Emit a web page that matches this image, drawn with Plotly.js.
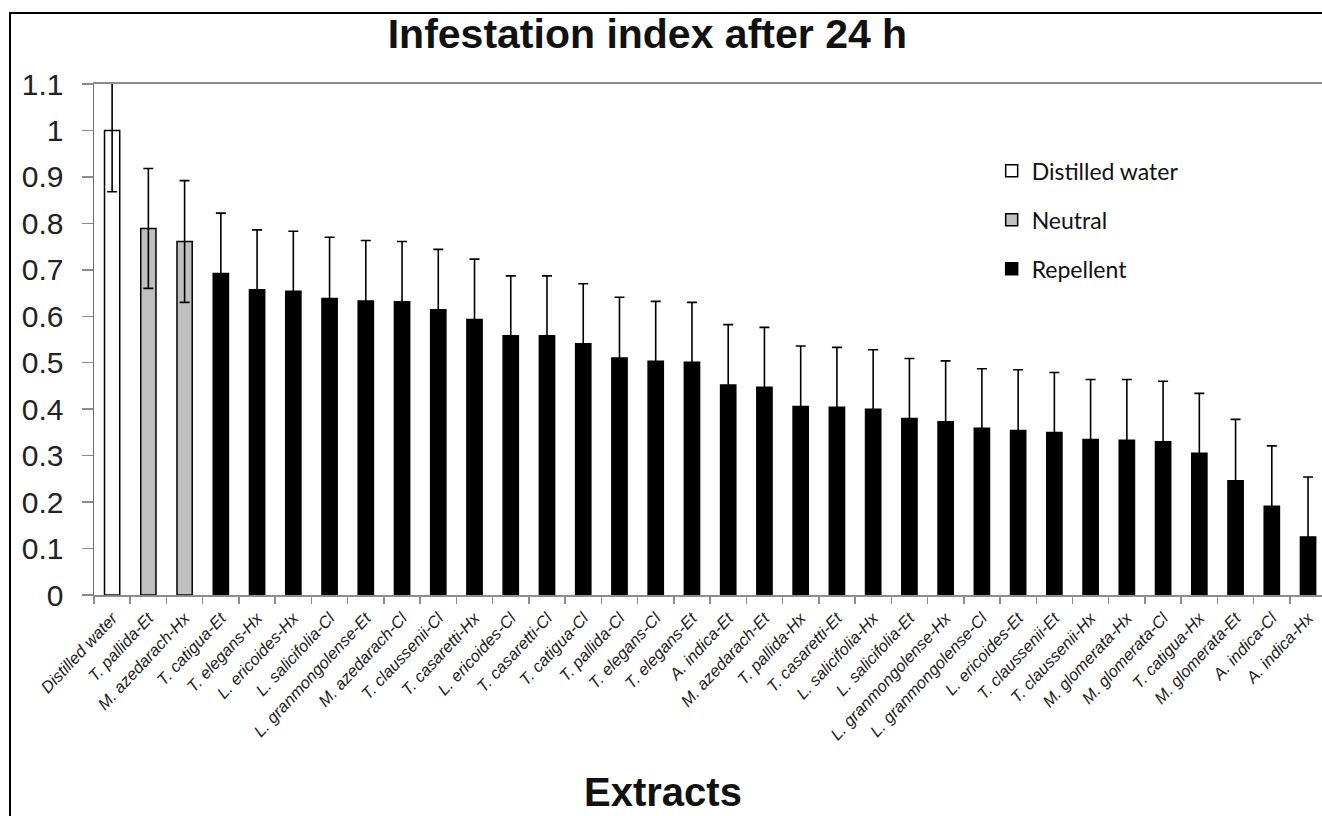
<!DOCTYPE html>
<html>
<head>
<meta charset="utf-8">
<script src="https://cdn.plot.ly/plotly-3.0.1.min.js"></script>
<style>
  html, body { margin: 0; padding: 0; background: #fff; overflow: hidden; }
  #chart { width: 1322px; height: 816px; }
</style>
</head>
<body>
<div id="chart"></div>
<script>
const categories = [
  "Distilled water", "T. pallida-Et", "M. azedarach-Hx", "T. catigua-Et", "T. elegans-Hx",
  "L. ericoides-Hx", "L. salicifolia-Cl", "L. granmongolense-Et", "M. azedarach-Cl", "T. claussenii-Cl",
  "T. casaretti-Hx", "L. ericoides-Cl", "T. casaretti-Cl", "T. catigua-Cl", "T. pallida-Cl",
  "T. elegans-Cl", "T. elegans-Et", "A. indica-Et", "M. azedarach-Et", "T. pallida-Hx",
  "T. casaretti-Et", "L. salicifolia-Hx", "L. salicifolia-Et", "L. granmongolense-Hx", "L. granmongolense-Cl",
  "L. ericoides-Et", "T. claussenii-Et", "T. claussenii-Hx", "M. glomerata-Hx", "M. glomerata-Cl",
  "T. catigua-Hx", "M. glomerata-Et", "A. indica-Cl", "A. indica-Hx"
];
const values = [
  1.000, 0.789, 0.761, 0.692, 0.657,
  0.654, 0.638, 0.633, 0.631, 0.614,
  0.593, 0.558, 0.558, 0.541, 0.510,
  0.503, 0.501, 0.452, 0.447, 0.406,
  0.404, 0.400, 0.380, 0.373, 0.359,
  0.354, 0.350, 0.335, 0.333, 0.330,
  0.305, 0.246, 0.191, 0.125
];
const errors = [
  0.132, 0.129, 0.131, 0.130, 0.129,
  0.129, 0.132, 0.130, 0.130, 0.130,
  0.130, 0.129, 0.129, 0.129, 0.131,
  0.129, 0.129, 0.130, 0.129, 0.130,
  0.129, 0.128, 0.129, 0.131, 0.128,
  0.131, 0.129, 0.129, 0.131, 0.130,
  0.129, 0.132, 0.130, 0.129
];
const groups = [
  "Distilled water", "Neutral", "Neutral", "Repellent", "Repellent",
  "Repellent", "Repellent", "Repellent", "Repellent", "Repellent",
  "Repellent", "Repellent", "Repellent", "Repellent", "Repellent",
  "Repellent", "Repellent", "Repellent", "Repellent", "Repellent",
  "Repellent", "Repellent", "Repellent", "Repellent", "Repellent",
  "Repellent", "Repellent", "Repellent", "Repellent", "Repellent",
  "Repellent", "Repellent", "Repellent", "Repellent"
];
const groupNames = ["Distilled water", "Neutral", "Repellent"];
const groupColors = ["#ffffff", "#c0c0c0", "#000000"];
const yTickValues = [0, 0.1, 0.2, 0.3, 0.4, 0.5, 0.6, 0.7, 0.8, 0.9, 1.0, 1.1];
const yTickLabels = ["0", "0.1", "0.2", "0.3", "0.4", "0.5", "0.6", "0.7", "0.8", "0.9", "1", "1.1"];

const arial = "Liberation Sans, Arial, Helvetica, sans-serif";

const traces = groupNames.map((g, gi) => {
  const idx = categories.map((c, i) => i).filter(i => groups[i] === g);
  return {
    type: "bar",
    name: g,
    legendgroup: g,
    x: idx.map(i => categories[i]),
    y: idx.map(i => values[i]),
    width: 0.42,
    marker: { color: groupColors[gi], line: { color: "#000000", width: 1.5 } },
    error_y: { type: "data", array: idx.map(i => errors[i]), visible: true,
               color: "#000000", thickness: 1.6, width: 5 },
    hoverinfo: "x+y"
  };
});

const layout = {
  width: 1322,
  height: 816,
  paper_bgcolor: "#ffffff",
  plot_bgcolor: "#ffffff",
  margin: { l: 94, r: 0, t: 84, b: 221 },
  barmode: "overlay",
  showlegend: true,
  title: {
    text: "Infestation index after 24 h",
    font: { family: arial, size: 41, color: "#111111", weight: "bold" },
    x: 0.4507, xref: "paper", xanchor: "center",
    y: 1 - 34 / 816, yref: "container", yanchor: "middle"
  },
  xaxis: {
    type: "category",
    categoryorder: "array",
    categoryarray: categories,
    range: [-0.5, 33.385],
    showline: true, linecolor: "#8c8c8c", linewidth: 2, mirror: true,
    ticks: "outside", tickson: "boundaries", ticklen: 7, tickcolor: "#8c8c8c", tickwidth: 1.5,
    tickangle: -47,
    ticklabelstandoff: 5,
    tickfont: { family: arial, size: 16.5, color: "#222222", style: "italic" },
    showgrid: false, zeroline: false, fixedrange: true
  },
  yaxis: {
    range: [0, 1.1],
    tickmode: "array", tickvals: yTickValues, ticktext: yTickLabels,
    showline: true, linecolor: "#6e6e6e", linewidth: 1.5,
    ticks: "outside", ticklen: 11, tickcolor: "#8c8c8c", tickwidth: 1.5,
    ticklabelstandoff: 12,
    tickfont: { family: arial, size: 30, color: "#222222" },
    showgrid: false, zeroline: false, fixedrange: true
  },
  legend: {
    x: 0.731, y: 0.872, xanchor: "left", yanchor: "top",
    bgcolor: "rgba(0,0,0,0)",
    font: { family: "Lato, Open Sans, sans-serif", size: 23, color: "#111111" },
    traceorder: "grouped",
    tracegroupgap: 16,
    itemclick: false, itemdoubleclick: false
  },
  annotations: [{
    text: "<b>Extracts</b>",
    xref: "paper", yref: "paper",
    x: 0.4634, y: -0.3855, xanchor: "center", yanchor: "middle",
    showarrow: false,
    font: { family: arial, size: 40, color: "#111111" }
  }],
  shapes: [{
    type: "rect", xref: "paper", yref: "paper",
    x0: -0.0684, x1: 1.05, y0: -0.5, y1: 1.139,
    line: { color: "#000000", width: 2 }, fillcolor: "rgba(0,0,0,0)", layer: "above"
  }]
};

Plotly.newPlot("chart", traces, layout, { displayModeBar: false, staticPlot: true });
</script>
</body>
</html>
